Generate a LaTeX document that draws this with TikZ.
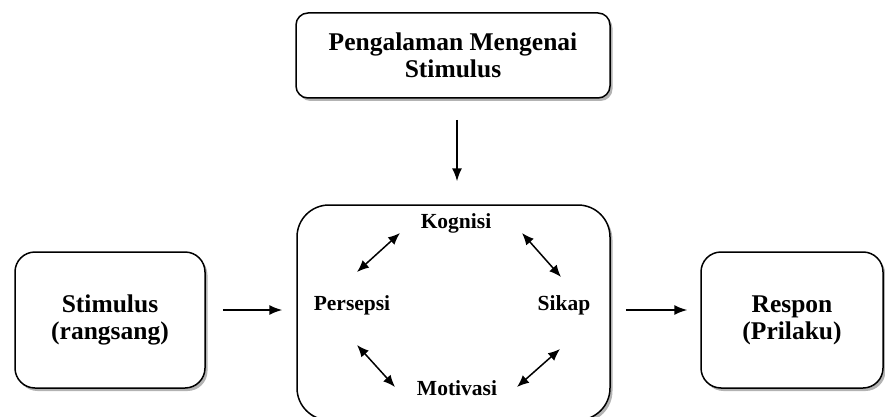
\documentclass[tikz,border=0pt]{standalone}
\usepackage{fontspec}
\setmainfont{Liberation Serif}
\usetikzlibrary{arrows.meta, positioning, shadows}

\begin{document}
\begin{tikzpicture}[
        x=1pt, y=-1pt,
        box/.style={rectangle, draw, line width=1.5pt, fill=white, align=center, inner sep=0pt,
            font=\fontsize{25.5}{27}\selectfont\bfseries,
            drop shadow={shadow xshift=2.5pt, shadow yshift=-3pt, fill=black!50, opacity=0.6}},
        term/.style={inner sep=0pt, font=\fontsize{21.5}{24}\selectfont\bfseries},
        flow/.style={-{Latex[length=13pt,width=10pt]}, line width=1.5pt},
        link/.style={{Latex[length=12pt,width=10pt]}-{Latex[length=12pt,width=10pt]}, line width=1.5pt}
    ]

    \useasboundingbox (0,0) rectangle (885,417);

    % Boxes
    \node[box, minimum width=314pt, minimum height=85pt, rounded corners=12pt] (Exp) at (453,55.5) {Pengalaman Mengenai\\Stimulus};
    \node[box, minimum width=190pt, minimum height=136pt, rounded corners=20pt] (Stim) at (110,320) {Stimulus\\(rangsang)};
    \node[box, minimum width=313pt, minimum height=215pt, rounded corners=32pt] (Proc) at (453.5,312.5) {};
    \node[box, minimum width=182pt, minimum height=136pt, rounded corners=20pt] (Resp) at (792,320) {Respon\\(Prilaku)};

    % Inner terms
    \node[term] (Kog) at (456,223) {Kognisi};
    \node[term] (Per) at (352,305) {Persepsi};
    \node[term] (Sik) at (564,305) {Sikap};
    \node[term] (Mot) at (457,388) {Motivasi};

    % Main flow
    \draw[flow, shorten <=21pt, shorten >=23pt] ([xshift=4pt]Exp.south) -- ([xshift=4pt]Exp.south |- Proc.north);
    \draw[flow, shorten <=17pt, shorten >=14pt] ([yshift=10pt]Stim.east) -- ([yshift=10pt]Stim.east -| Proc.west);
    \draw[flow, shorten <=15pt, shorten >=13pt] ([yshift=10pt]Resp.west -| Proc.east) -- ([yshift=10pt]Resp.west);

    % Cycle
    \draw[link] ([shift={(-56,10)}]Kog.center) -- ([shift={(5,-33)}]Per.center);
    \draw[link] ([shift={(66,10)}]Kog.center) -- ([shift={(-3,-28)}]Sik.center);
    \draw[link] ([shift={(5,40)}]Per.center) -- ([shift={(-62,-1)}]Mot.center);
    \draw[link] ([shift={(60,-1)}]Mot.center) -- ([shift={(-4,44)}]Sik.center);

\end{tikzpicture}
\end{document}
